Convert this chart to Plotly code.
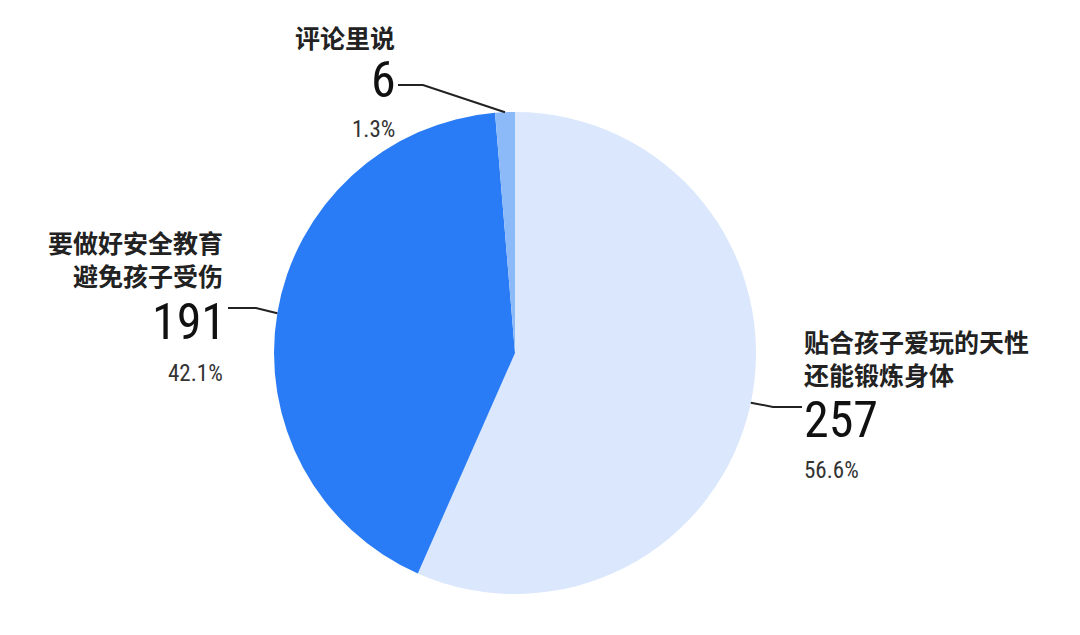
import math
import plotly.graph_objects as go

labels = ["贴合孩子爱玩的天性<br>还能锻炼身体", "要做好安全教育<br>避免孩子受伤", "评论里说"]
values = [257, 191, 6]
colors = ["#dae7fc", "#2a7cf6", "#8cb9f8"]

W, H = 1080, 635
CX, CY, R = 515, 353, 241

total = sum(values)
percents = [f"{v / total * 100:.1f}%" for v in values]

fig = go.Figure(go.Pie(
    labels=labels, values=values, sort=False, direction="clockwise", rotation=0,
    marker=dict(colors=colors, line=dict(width=0)),
    textinfo="none", hoverinfo="label+value+percent", showlegend=False,
    domain=dict(x=[(CX - R) / W, (CX + R) / W], y=[(H - CY - R) / H, (H - CY + R) / H]),
))

def px(x):
    return x / W

def py(y):
    return 1 - y / H

CJK = "Noto Sans CJK SC, sans-serif"
NUM = "Roboto Condensed, Liberation Sans Narrow, DejaVu Sans Condensed, sans-serif"

# label layout in pixels: title x, number x, xanchor, title centre y, number y, percent y, elbow, label-end
layout_spec = [
    dict(x=802, nx=802, xa="left", ty=357, ny=420, py_=471, elbow=(773, 407), end=(802, 407)),
    dict(x=225, nx=228, xa="right", ty=258, ny=322, py_=373, elbow=(256, 308), end=(228, 308)),
    dict(x=397, nx=398, xa="right", ty=37, ny=80, py_=129, elbow=(423, 85), end=(398, 85)),
]

annotations = []
shapes = []
cum = 0
for lab, val, pct, spec in zip(labels, values, percents, layout_spec):
    mid = (cum + val / 2) / total * 2 * math.pi
    cum += val
    ex = CX + R * math.sin(mid)
    ey = CY - R * math.cos(mid)
    annotations.append(dict(x=px(spec["x"]), y=py(spec["ty"]), xref="paper", yref="paper",
                            xanchor=spec["xa"], yanchor="middle", showarrow=False,
                            text=lab, align=spec["xa"],
                            font=dict(family=CJK, size=25, color="#222222", weight=600)))
    annotations.append(dict(x=px(spec["nx"]), y=py(spec["ny"]), xref="paper", yref="paper",
                            xanchor=spec["xa"], yanchor="middle", showarrow=False,
                            text=str(val), font=dict(family=NUM, size=50, color="#111111")))
    annotations.append(dict(x=px(spec["x"]), y=py(spec["py_"]), xref="paper", yref="paper",
                            xanchor=spec["xa"], yanchor="middle", showarrow=False,
                            text=pct, font=dict(family=NUM, size=23, color="#333333")))
    path = (f"M {px(ex)},{py(ey)} L {px(spec['elbow'][0])},{py(spec['elbow'][1])} "
            f"L {px(spec['end'][0])},{py(spec['end'][1])}")
    shapes.append(dict(type="path", xref="paper", yref="paper", path=path,
                       line=dict(color="#222222", width=2)))

fig.update_layout(
    width=W, height=H, margin=dict(l=0, r=0, t=0, b=0),
    paper_bgcolor="white", plot_bgcolor="white",
    annotations=annotations, shapes=shapes,
)

fig.write_html("out.html", config={"displayModeBar": False},
               post_script="document.body.style.margin='0';")
